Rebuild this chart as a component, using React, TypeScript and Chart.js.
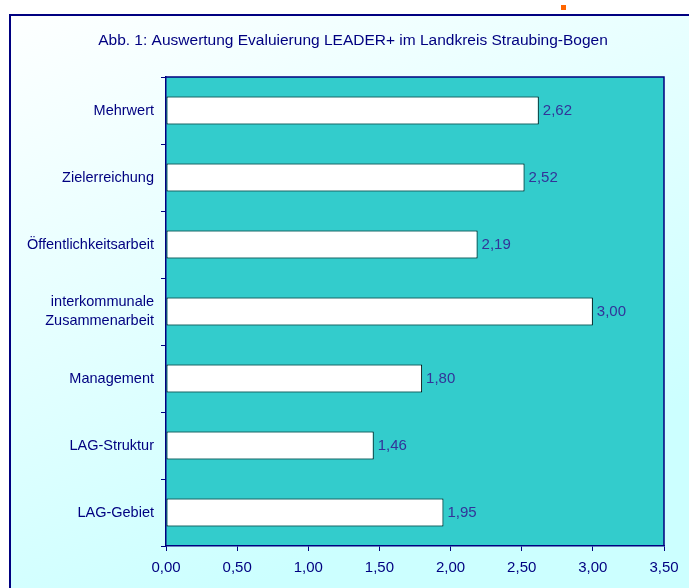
import React, { useEffect, useRef } from 'react';
import { Chart, registerables } from 'chart.js';

Chart.register(...registerables);

const TITLE = 'Abb. 1: Auswertung Evaluierung LEADER+ im Landkreis Straubing-Bogen';
const categories: string[][] = [
  ['Mehrwert'],
  ['Zielerreichung'],
  ['Öffentlichkeitsarbeit'],
  ['interkommunale', 'Zusammenarbeit'],
  ['Management'],
  ['LAG-Struktur'],
  ['LAG-Gebiet'],
];
const values: number[] = [2.62, 2.52, 2.19, 3.0, 1.8, 1.46, 1.95];
const xMin = 0;
const xMax = 3.5;
const xStep = 0.5;

const NAVY = '#000080';
const LABEL_BLUE = '#333399';
const FONT = '"Liberation Sans", Arial, sans-serif';

const fmt = (v: number) => v.toFixed(2).replace('.', ',');

const decorPlugin = {
  id: 'decor',
  beforeDraw(chart: any) {
    const { ctx, width, height, chartArea } = chart;
    ctx.save();
    ctx.fillStyle = '#ffffff';
    ctx.fillRect(0, 0, width, height);
    const g = ctx.createLinearGradient(0, 0, 250, height);
    g.addColorStop(0, '#ffffff');
    g.addColorStop(1, '#ccffff');
    ctx.fillStyle = g;
    ctx.fillRect(10, 15, width - 10, height - 15);
    ctx.strokeStyle = NAVY;
    ctx.lineWidth = 2;
    ctx.beginPath();
    ctx.moveTo(width + 2, 15);
    ctx.lineTo(10, 15);
    ctx.lineTo(10, height + 2);
    ctx.stroke();
    ctx.fillStyle = '#ff6600';
    ctx.fillRect(561, 5, 5, 5);
    ctx.fillStyle = NAVY;
    ctx.font = `15.5px ${FONT}`;
    ctx.textAlign = 'center';
    ctx.textBaseline = 'middle';
    ctx.fillText(TITLE, 353, 41);
    ctx.fillStyle = '#33cccc';
    ctx.fillRect(chartArea.left, chartArea.top, chartArea.right - chartArea.left, chartArea.bottom - chartArea.top);
    ctx.restore();
  },
  afterDatasetsDraw(chart: any) {
    const { ctx, chartArea } = chart;
    ctx.save();
    ctx.strokeStyle = NAVY;
    ctx.lineWidth = 1.5;
    ctx.beginPath();
    ctx.moveTo(chartArea.left, chartArea.top);
    ctx.lineTo(chartArea.right, chartArea.top);
    ctx.lineTo(chartArea.right, chartArea.bottom);
    ctx.stroke();
    const meta = chart.getDatasetMeta(0);
    ctx.fillStyle = LABEL_BLUE;
    ctx.font = `15px ${FONT}`;
    ctx.textAlign = 'left';
    ctx.textBaseline = 'middle';
    meta.data.forEach((el: any, i: number) => {
      ctx.fillText(fmt(values[i]), el.x + 4, el.y);
    });
    ctx.restore();
  },
};

export default function App() {
  const ref = useRef<HTMLCanvasElement | null>(null);
  useEffect(() => {
    if (!ref.current) return;
    const chart = new Chart(ref.current, {
      type: 'bar',
      data: {
        labels: categories as any,
        datasets: [
          {
            data: values,
            backgroundColor: '#ffffff',
            borderColor: '#000000',
            borderWidth: 1,
            borderSkipped: false,
            barPercentage: 0.42,
            categoryPercentage: 1,
          },
        ],
      },
      options: {
        indexAxis: 'y',
        animation: false,
        responsive: false,
        maintainAspectRatio: false,
        layout: { padding: { top: 77, right: 25, bottom: 0, left: 0 } },
        plugins: {
          legend: { display: false },
          title: { display: false },
          tooltip: { enabled: false },
        },
        scales: {
          y: {
            type: 'category',
            offset: true,
            grid: {
              offset: true,
              drawOnChartArea: false,
              drawTicks: true,
              tickLength: 5,
              color: NAVY,
            },
            border: { display: true, color: NAVY, width: 1.5 },
            ticks: {
              color: NAVY,
              font: { family: FONT, size: 14.5, lineHeight: 1.3 },
              padding: 7,
            },
            afterFit: (s: any) => {
              s.width = 166;
            },
          },
          x: {
            type: 'linear',
            min: xMin,
            max: xMax,
            grid: {
              drawOnChartArea: false,
              drawTicks: true,
              tickLength: 5,
              color: NAVY,
            },
            border: { display: true, color: NAVY, width: 1.5 },
            ticks: {
              stepSize: xStep,
              color: NAVY,
              font: { family: FONT, size: 15 },
              padding: 8,
              callback: (v: any) => fmt(Number(v)),
            },
            afterFit: (s: any) => {
              s.height = 42;
            },
          },
        },
      },
      plugins: [decorPlugin],
    });
    return () => chart.destroy();
  }, []);
  return (
    <div style={{ position: 'fixed', left: 0, top: 0, width: 689, height: 588 }}>
      <canvas ref={ref} width={689} height={588} style={{ display: 'block', width: 689, height: 588 }} />
    </div>
  );
}
